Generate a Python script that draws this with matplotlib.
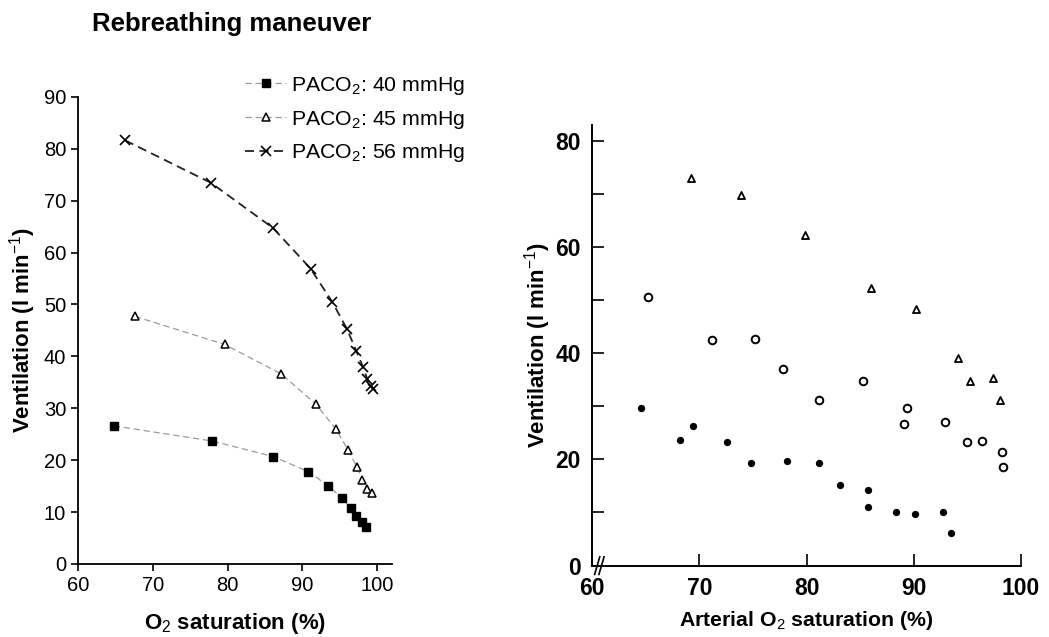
import numpy as np
import matplotlib
matplotlib.use("Agg")
import matplotlib.pyplot as plt

plt.rcParams['font.family'] = ['Liberation Sans', 'DejaVu Sans']
plt.rcParams['mathtext.fontset'] = 'custom'
plt.rcParams['mathtext.rm'] = 'Liberation Sans'
plt.rcParams['mathtext.bf'] = 'Liberation Sans:bold'

# ---- left panel: rebreathing maneuver ----
sat_40 = [64.8, 77.9, 86.1, 90.8, 93.5, 95.3, 96.5, 97.2, 98.0, 98.5]
vent_40 = [26.6, 23.7, 20.7, 17.8, 15.0, 12.7, 10.7, 9.2, 8.0, 7.2]

sat_45 = [67.6, 79.6, 87.2, 91.8, 94.5, 96.1, 97.3, 98.0, 98.7, 99.3]
vent_45 = [47.7, 42.3, 36.6, 30.8, 26.0, 22.0, 18.7, 16.2, 14.5, 13.6]

sat_56 = [66.3, 77.8, 86.1, 91.1, 94.0, 96.0, 97.2, 98.1, 98.7, 99.2, 99.5]
vent_56 = [81.6, 73.4, 64.7, 56.9, 50.5, 45.2, 41.1, 38.0, 35.6, 34.3, 33.7]

left_labels = ['PACO$_2$: 40 mmHg', 'PACO$_2$: 45 mmHg', 'PACO$_2$: 56 mmHg']

# ---- right panel: arterial saturation scatter ----
sat_tri = [69.2, 73.9, 79.9, 86.0, 90.2, 94.1, 95.2, 97.4, 98.0]
vent_tri = [72.9, 69.8, 62.2, 52.3, 48.3, 39.0, 34.8, 35.4, 31.1]

sat_circ = [65.2, 71.2, 75.2, 77.8, 81.2, 85.3, 89.4, 89.1, 92.9, 95.0, 96.4, 98.2, 98.3]
vent_circ = [50.6, 42.5, 42.7, 37.0, 31.2, 34.8, 29.6, 26.7, 27.0, 23.3, 23.5, 21.3, 18.5]

sat_dot = [64.6, 68.2, 69.4, 72.6, 74.8, 78.2, 81.2, 83.1, 85.7, 85.7, 88.3, 90.1, 92.7, 93.5]
vent_dot = [29.7, 23.6, 26.2, 23.3, 19.3, 19.6, 19.3, 15.2, 14.2, 11.1, 10.0, 9.7, 10.0, 6.1]

fig = plt.figure(figsize=(10.49, 6.37), dpi=100)

# =========================
# LEFT PANEL
# =========================
ax1 = fig.add_axes([0.0744, 0.1146, 0.2993, 0.7335])
ax1.plot(sat_40, vent_40, linestyle=(0, (5, 3)), color='#9a9a9a', lw=0.9,
         marker='s', ms=5.5, mfc='black', mec='black', label=left_labels[0])
ax1.plot(sat_45, vent_45, linestyle=(0, (5, 3)), color='#9a9a9a', lw=0.9,
         marker='^', ms=6, mfc='white', mec='black', mew=1.1, label=left_labels[1])
ax1.plot(sat_56, vent_56, linestyle=(0, (5, 3)), color='#222222', lw=1.3,
         marker='x', ms=7, mec='black', mew=1.2, label=left_labels[2])

ax1.set_xlim(60, 102)
ax1.set_ylim(0, 90)
ax1.set_xticks(np.arange(60, 101, 10))
ax1.set_yticks(np.arange(0, 91, 10))
ax1.spines['top'].set_visible(False)
ax1.spines['right'].set_visible(False)
ax1.tick_params(direction='out', length=5, width=1.2, labelsize=14.5)
for s in ['left', 'bottom']:
    ax1.spines[s].set_linewidth(1.3)
ax1.set_xlabel('O$_2$ saturation (%)', fontsize=16, fontweight='bold', labelpad=12)
ax1.set_ylabel('Ventilation (l min$^{-1}$)', fontsize=16, fontweight='bold', labelpad=4)
leg = ax1.legend(loc='upper left', bbox_to_anchor=(0.506, 1.065), frameon=False,
                 fontsize=15.3, handlelength=1.9, handletextpad=0.25, labelspacing=0.55,
                 borderaxespad=0)
fig.text(0.088, 0.962, 'Rebreathing maneuver', fontsize=18.5, fontweight='bold',
         ha='left', va='center')

# =========================
# RIGHT PANEL
# =========================
ax2 = fig.add_axes([0.5644, 0.1121, 0.4089, 0.692])
ax2.scatter(sat_tri, vent_tri, marker='^', s=26, facecolor='white', edgecolor='black', lw=1.3)
ax2.scatter(sat_circ, vent_circ, marker='o', s=30, facecolor='white', edgecolor='black', lw=1.4)
ax2.scatter(sat_dot, vent_dot, marker='o', s=18, facecolor='black', edgecolor='black')

ax2.set_xlim(60, 100)
ax2.set_ylim(0, 83)
ax2.set_xticks(np.arange(60, 101, 10))
ax2.set_yticks(np.arange(0, 81, 20))
ax2.set_yticks(np.arange(10, 80, 20), minor=True)
ax2.spines['top'].set_visible(False)
ax2.spines['right'].set_visible(False)
for s in ['left', 'bottom']:
    ax2.spines[s].set_linewidth(1.4)
ax2.tick_params(which='both', direction='in', length=8.5, width=1.2)
ax2.tick_params(which='major', labelsize=16.5, pad=8)
for lbl in ax2.get_xticklabels() + ax2.get_yticklabels():
    lbl.set_fontweight('bold')
ax2.set_xlabel('Arterial O$_2$ saturation (%)', fontsize=15.3, fontweight='bold', labelpad=7)
ax2.set_ylabel('Ventilation (l min$^{-1}$)', fontsize=16, fontweight='bold', labelpad=2)

# axis break mark near the origin
for dx in (0.012, 0.022):
    ax2.plot([dx - 0.006, dx + 0.006], [-0.02, 0.02], transform=ax2.transAxes,
             color='black', lw=1.2, clip_on=False)

fig.savefig('out.png', dpi=100)
